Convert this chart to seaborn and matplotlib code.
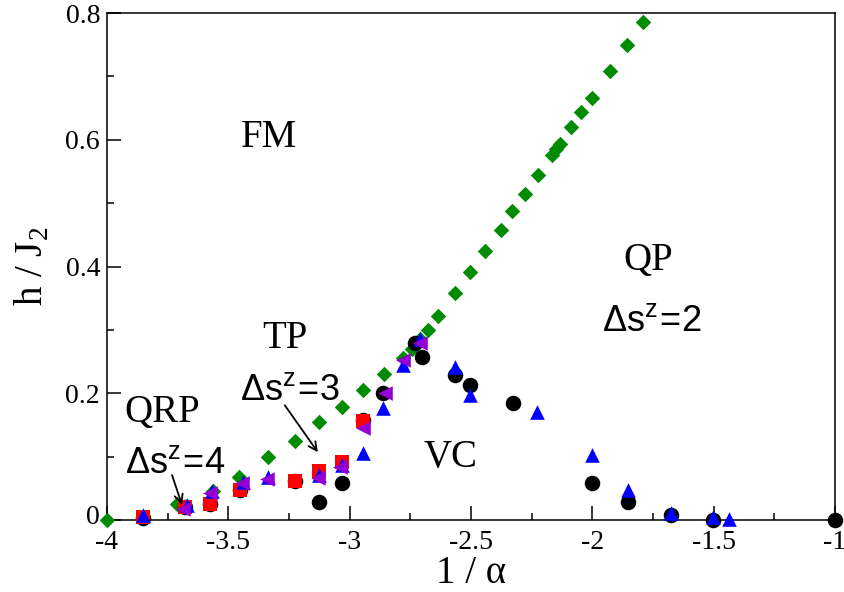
import numpy as np
import pandas as pd
import matplotlib
matplotlib.use("Agg")
import matplotlib.pyplot as plt
import matplotlib.transforms as mtransforms
import seaborn as sns
from matplotlib.ticker import MultipleLocator

# Phase boundary data (x = 1/alpha, y = h/J2)
green_x = [-4.0, -3.85, -3.71, -3.565, -3.455, -3.335, -3.225, -3.125, -3.03, -2.944,
           -2.86, -2.78, -2.745, -2.71, -2.676, -2.635, -2.566, -2.504, -2.443, -2.378,
           -2.330, -2.278, -2.225, -2.168, -2.150, -2.133, -2.088, -2.047, -2.003, -1.927,
           -1.859, -1.790]
green_y = [0.0, 0.005, 0.026, 0.046, 0.068, 0.099, 0.125, 0.154, 0.179, 0.205,
           0.231, 0.256, 0.270, 0.285, 0.300, 0.322, 0.358, 0.392, 0.425, 0.457,
           0.487, 0.515, 0.544, 0.576, 0.585, 0.594, 0.620, 0.644, 0.666, 0.709,
           0.750, 0.786]

black_x = [-3.85, -3.68, -3.576, -3.452, -3.225, -3.125, -3.033, -2.944, -2.862, -2.731,
           -2.703, -2.566, -2.504, -2.328, -2.003, -1.855, -1.677, -1.504, -1.0]
black_y = [0.003, 0.021, 0.026, 0.047, 0.062, 0.029, 0.058, 0.158, 0.200, 0.279,
           0.258, 0.229, 0.213, 0.184, 0.059, 0.029, 0.008, 0.0, 0.0]

red_x = [-3.85, -3.68, -3.576, -3.452, -3.225, -3.125, -3.033, -2.944]
red_y = [0.005, 0.020, 0.026, 0.047, 0.062, 0.078, 0.092, 0.157]

blue_x = [-3.85, -3.672, -3.569, -3.438, -3.335, -3.125, -3.033, -2.944, -2.862, -2.779,
          -2.71, -2.566, -2.504, -2.227, -2.003, -1.855, -1.677, -1.504, -1.436]
blue_y = [0.008, 0.024, 0.045, 0.060, 0.068, 0.071, 0.087, 0.106, 0.176, 0.244,
          0.285, 0.241, 0.197, 0.171, 0.103, 0.048, 0.011, 0.005, 0.001]

purple_x = [-3.686, -3.576, -3.445, -3.342, -3.129, -3.04, -2.944, -2.855, -2.779, -2.71]
purple_y = [0.018, 0.042, 0.059, 0.064, 0.067, 0.084, 0.145, 0.201, 0.252, 0.279]

x_ticks = [-4, -3.5, -3, -2.5, -2, -1.5, -1]
x_ticklabels = ["-4", "-3.5", "-3", "-2.5", "-2", "-1.5", "-1"]
y_ticks = [0, 0.2, 0.4, 0.6, 0.8]
y_ticklabels = ["0", "0.2", "0.4", "0.6", "0.8"]

sns.set_theme(style="ticks")
plt.rcParams['font.family'] = ['Liberation Serif', 'DejaVu Serif']
plt.rcParams['mathtext.fontset'] = 'custom'
plt.rcParams['mathtext.rm'] = 'Liberation Serif'
plt.rcParams['text.color'] = 'black'
plt.rcParams['axes.labelcolor'] = 'black'

fig = plt.figure(figsize=(8.45, 5.92), dpi=100)
ax = fig.add_axes([0.1266, 0.1216, 0.8616, 0.8564])

series = [
    (green_x, green_y, "#008b00", "D", 62),
    (black_x, black_y, "black", "o", 125),
    (red_x, red_y, "red", "s", 95),
    (blue_x, blue_y, "blue", "^", 110),
    (purple_x, purple_y, "#9400d3", "<", 110),
]
for xs, ys, col, mk, sz in series:
    sns.scatterplot(x=xs, y=ys, color=col, marker=mk, s=sz, linewidth=0,
                    ax=ax, clip_on=False, zorder=3)

ax.set_xlim(-4, -1)
ax.set_ylim(0, 0.8)
ax.set_xticks(x_ticks)
ax.set_xticklabels(x_ticklabels)
ax.set_yticks(y_ticks)
ax.set_yticklabels(y_ticklabels)
ax.xaxis.set_minor_locator(MultipleLocator(0.25))
ax.yaxis.set_minor_locator(MultipleLocator(0.1))
ax.tick_params(which='both', direction='in', labelsize=20, width=1.1, color='black',
               labelcolor='black', top=False, right=False)
ax.tick_params(axis='x', pad=7)
ax.tick_params(axis='y', pad=5)
ax.tick_params(which='major', length=10)
ax.tick_params(which='minor', length=5)
for sp in ax.spines.values():
    sp.set_linewidth(1.1)
    sp.set_color('black')

# nudge the y "0" label up a little so it clears the x "-4" label
lbl0 = ax.get_yticklabels()[0]
lbl0.set_transform(lbl0.get_transform() +
                   mtransforms.ScaledTranslation(0, 4 / 72, fig.dpi_scale_trans))

ax.set_xlabel(r"1 / α", fontsize=28, labelpad=0)
ax.set_ylabel(r"h / J$_\mathregular{2}$", fontsize=28, labelpad=10)

serif = dict(fontsize=28, color='black', ha='center', va='center')
sans = dict(fontsize=26, color='black', ha='center', va='baseline',
            family=['Liberation Sans', 'DejaVu Sans'])
ax.text(-3.333, 0.604, "FM", **serif)
ax.text(-1.769, 0.410, "QP", **serif)
ax.text(-1.756, 0.298, r"$\mathregular{Δs^z\!=\!2}$", **sans)
ax.text(-3.267, 0.287, "TP", **serif)
ax.text(-3.246, 0.189, r"$\mathregular{Δs^z\!=\!3}$", **sans)
ax.text(-3.773, 0.169, "QRP", **serif)
ax.text(-3.72, 0.074, r"$\mathregular{Δs^z\!=\!4}$", **sans)
ax.text(-2.583, 0.098, "VC", **serif)

arrow = dict(arrowstyle='->', color='black', lw=1.3, mutation_scale=15,
             shrinkA=0, shrinkB=0)
ax.annotate("", xy=(-3.131, 0.107), xytext=(-3.267, 0.181), arrowprops=arrow)
ax.annotate("", xy=(-3.691, 0.024), xytext=(-3.732, 0.071), arrowprops=arrow)

fig.savefig("out.png", dpi=100)
